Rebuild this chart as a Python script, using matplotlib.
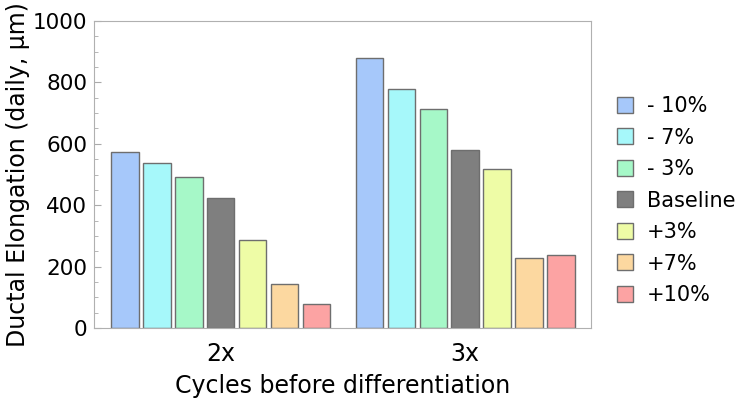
import numpy as np
import matplotlib.pyplot as plt
from matplotlib.ticker import MultipleLocator

groups = ['2x', '3x']
labels = ['- 10%', '- 7%', '- 3%', 'Baseline', '+3%', '+7%', '+10%']
values = [
    [573, 880],
    [536, 780],
    [493, 712],
    [423, 581],
    [288, 518],
    [144, 227],
    [79, 238],
]
colors = ['#a6c8fa', '#a6f8fa', '#a6f8c8', '#7f7f7f', '#eefca6', '#fcd8a0', '#fca3a3']

fig = plt.figure(figsize=(7.38, 4.07), dpi=100)
ax = fig.add_axes([94 / 738, 1 - 328 / 407, 497 / 738, 307 / 407])

x = np.arange(len(groups))
step = 0.131
width = 0.111
for i, (lab, vals, c) in enumerate(zip(labels, values, colors)):
    ax.bar(x + (i - 3) * step, vals, width, color=c, edgecolor='#6e6e6e',
           linewidth=1.0, label=lab)

ax.set_xlim(-0.52, 1.516)
ax.set_ylim(0, 1000)
ax.set_xticks(x)
ax.set_xticklabels(groups, fontsize=17)
ax.yaxis.set_major_locator(MultipleLocator(200))
ax.yaxis.set_minor_locator(MultipleLocator(50))
ax.tick_params(axis='y', which='major', direction='in', length=5, color='#aaaaaa', labelsize=15.5, pad=5)
ax.tick_params(axis='y', which='minor', direction='in', length=3, color='#aaaaaa')
ax.tick_params(axis='x', length=0, pad=10)
for s in ax.spines.values():
    s.set_color('#b0b0b0')

ax.set_ylabel('Ductal Elongation (daily, μm)', fontsize=17, labelpad=2)
ax.set_xlabel('Cycles before differentiation', fontsize=17, labelpad=6)

leg = ax.legend(loc='center left', bbox_to_anchor=(1.035, 0.415), frameon=False,
                fontsize=15, handlelength=0.8, handleheight=0.8,
                labelspacing=0.55, handletextpad=0.65, borderaxespad=0)

fig.savefig('out.png', dpi=100)
